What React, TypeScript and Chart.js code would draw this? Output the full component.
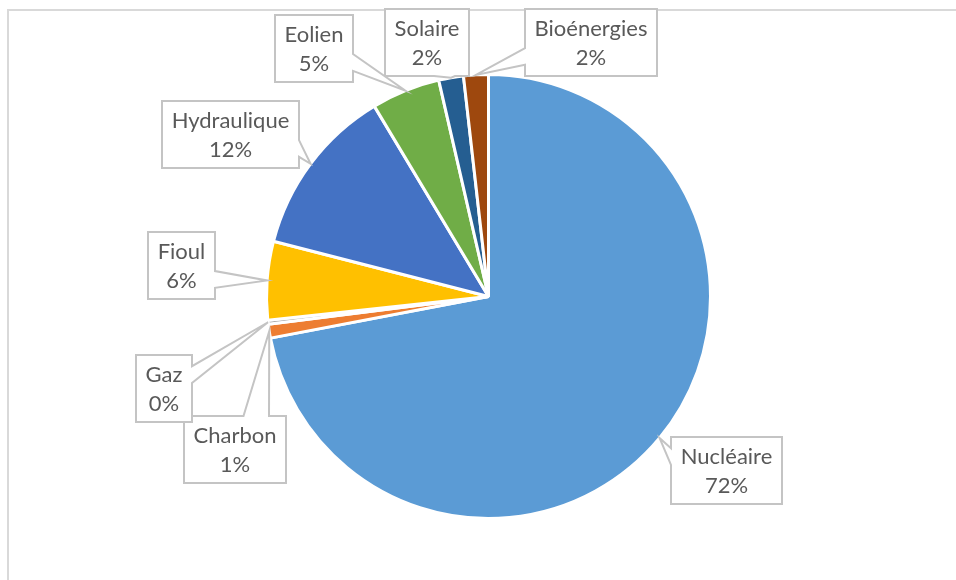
import React, { useEffect, useRef } from "react";
import { Chart, registerables } from "chart.js";

Chart.register(...registerables);

// ---- data ----
const categories = ["Nucléaire", "Charbon", "Gaz", "Fioul", "Hydraulique", "Eolien", "Solaire", "Bioénergies"];
const shares = [72.0, 1.0, 0.3, 5.7, 12.4, 5.0, 1.8, 1.8];

// ---- styles ----
const sliceColors = ["#5B9BD5", "#ED7D31", "#A5A5A5", "#FFC000", "#4472C4", "#70AD47", "#255E91", "#9E480E"];
// callout box centre, relative to the point of the slice it points at
const labelOffsets: [number, number][] = [
  [66.5, 32], [-34, 118], [-104, 66.5], [-86, -15], [-80.5, -29.5], [-91.5, -42], [-24, -35.5], [115.5, -32],
];
const LABEL_FONT = '22px Lato, "Open Sans", sans-serif';
const LABEL_COLOR = "#595959";
const BOX_BORDER = "#C4C4C4";

function calloutPath(ctx: CanvasRenderingContext2D, x: number, y: number, w: number, h: number, tx: number, ty: number) {
  const cx = x + w / 2, cy = y + h / 2;
  const dxPos = tx - cx, dyPos = ty - cy;
  const horiz = Math.abs(dxPos) * h > Math.abs(dyPos) * w;
  const inside = tx >= x && tx <= x + w && ty >= y && ty <= y + h;
  const xg1 = dxPos > 0 ? 7 : 2, xg2 = dxPos > 0 ? 10 : 5;
  const yg1 = dyPos > 0 ? 7 : 2, yg2 = dyPos > 0 ? 10 : 5;
  const x1 = x + (w * xg1) / 12, x2 = x + (w * xg2) / 12;
  const y1 = y + (h * yg1) / 12, y2 = y + (h * yg2) / 12;
  ctx.beginPath();
  ctx.moveTo(x, y);
  if (!inside && !horiz && dyPos < 0) { ctx.lineTo(x1, y); ctx.lineTo(tx, ty); ctx.lineTo(x2, y); }
  ctx.lineTo(x + w, y);
  if (!inside && horiz && dxPos > 0) { ctx.lineTo(x + w, y1); ctx.lineTo(tx, ty); ctx.lineTo(x + w, y2); }
  ctx.lineTo(x + w, y + h);
  if (!inside && !horiz && dyPos > 0) { ctx.lineTo(x2, y + h); ctx.lineTo(tx, ty); ctx.lineTo(x1, y + h); }
  ctx.lineTo(x, y + h);
  if (!inside && horiz && dxPos < 0) { ctx.lineTo(x, y2); ctx.lineTo(tx, ty); ctx.lineTo(x, y1); }
  ctx.closePath();
}

const framePlugin = {
  id: "frame",
  beforeDraw(chart: any) {
    const ctx = chart.ctx as CanvasRenderingContext2D;
    ctx.save();
    ctx.fillStyle = "#D9D9D9";
    ctx.fillRect(7, 9, 2, chart.height - 9);
    ctx.fillRect(7, 9, chart.width - 7, 2);
    ctx.restore();
  },
};

const calloutPlugin = {
  id: "callouts",
  afterDatasetsDraw(chart: any) {
    const ctx = chart.ctx as CanvasRenderingContext2D;
    const meta = chart.getDatasetMeta(0);
    const values = chart.data.datasets[0].data as number[];
    const total = values.reduce((a, b) => a + b, 0);
    ctx.save();
    ctx.font = LABEL_FONT;
    meta.data.forEach((arc: any, i: number) => {
      const p = arc.getProps(["x", "y", "startAngle", "endAngle", "outerRadius"], true);
      const mid = (p.startAngle + p.endAngle) / 2;
      const tx = p.x + Math.cos(mid) * p.outerRadius;
      const ty = p.y + Math.sin(mid) * p.outerRadius;
      const line1 = String(chart.data.labels[i]);
      const line2 = Math.round((values[i] / total) * 100) + "%";
      const w = Math.round(Math.max(ctx.measureText(line1).width, ctx.measureText(line2).width) + 19);
      const h = 67;
      const cx = tx + labelOffsets[i][0];
      const cy = ty + labelOffsets[i][1];
      const bx = Math.round(cx - w / 2);
      const by = Math.round(cy - h / 2);
      calloutPath(ctx, bx, by, w, h, tx, ty);
      ctx.fillStyle = "#FFFFFF";
      ctx.fill();
      ctx.lineWidth = 2;
      ctx.strokeStyle = BOX_BORDER;
      ctx.lineJoin = "miter";
      ctx.stroke();
      ctx.fillStyle = LABEL_COLOR;
      ctx.textAlign = "center";
      ctx.textBaseline = "alphabetic";
      ctx.fillText(line1, bx + w / 2, by + h / 2 - 6.5);
      ctx.fillText(line2, bx + w / 2, by + h / 2 + 22.5);
    });
    ctx.restore();
  },
};

export default function App() {
  const ref = useRef<HTMLCanvasElement | null>(null);
  useEffect(() => {
    if (!ref.current) return;
    const chart = new Chart(ref.current, {
      type: "pie",
      data: {
        labels: categories,
        datasets: [
          {
            data: shares,
            backgroundColor: sliceColors,
            borderColor: "#FFFFFF",
            borderWidth: 3,
          },
        ],
      },
      options: {
        responsive: false,
        animation: false,
        events: [],
        devicePixelRatio: 1,
        layout: { padding: { left: 265, right: 244, top: 73, bottom: 60 } },
        plugins: {
          legend: { display: false },
          tooltip: { enabled: false },
          title: { display: false },
        },
      },
      plugins: [framePlugin, calloutPlugin],
    });
    return () => chart.destroy();
  }, []);
  return (
    <canvas
      ref={ref}
      width={956}
      height={580}
      style={{ position: "fixed", left: 0, top: 0, width: 956, height: 580, background: "#FFFFFF" }}
    />
  );
}
